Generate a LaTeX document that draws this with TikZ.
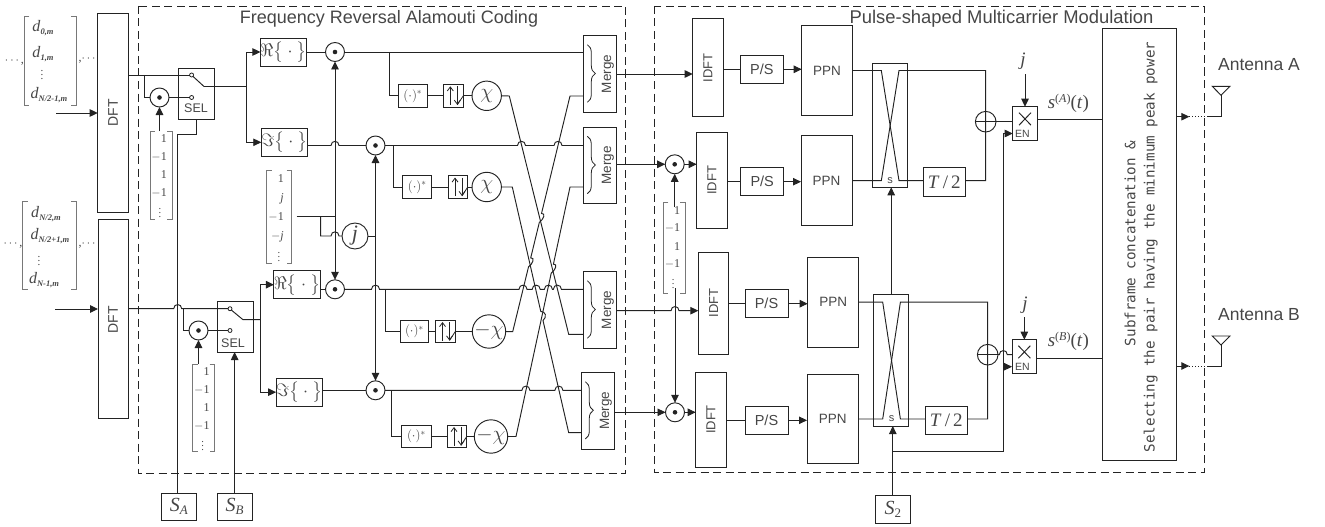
\documentclass[tikz,border=0pt]{standalone}
\usepackage{fix-cm}
\usepackage{amsmath}
\usepackage{fontspec}
\setmainfont{Liberation Serif}
\setsansfont{Liberation Sans}
\setmonofont{DejaVu Sans Mono}
\usetikzlibrary{arrows.meta,calc,decorations.pathreplacing}
\definecolor{wirecolor}{RGB}{35,35,35}
\definecolor{textcolor}{RGB}{70,70,70}
\definecolor{bracecolor}{RGB}{120,120,120}
\newcommand{\sized}[1]{\fontsize{#1}{#1}\selectfont}
\newcommand{\dsub}[1]{\textit{d}\raisebox{-2.5pt}{\sized{8.5}\textit{\textbf{#1}}}}
\newcommand{\blk}[7][]{\node[blockbox,minimum width={(#5-#3)*1pt},minimum height={(#6-#4)*1pt},#1] (#2) at ({(#3+#5)/2},{(#4+#6)/2}) {#7};}
\newcommand{\hop}[2]{-- ({#1-4},#2) .. controls ({#1-4},{#2-5.5}) and ({#1+4},{#2-5.5}) .. ({#1+4},#2)}
\newcommand{\slhop}[3]{-- ({#1-#3},{#2-4.5}) .. controls ({#1-#3+4.5},{#2-5}) and ({#1+#3+4.5},{#2+1}) .. ({#1+#3},{#2+4.5})}
\newcommand{\brk}[4]{\draw[bracket] ({#1+5},#2) -- (#1,#2) -- (#1,#4) -- ({#1+5},#4); \draw[bracket] ({#3-5},#2) -- ({#3},#2) -- ({#3},#4) -- ({#3-5},#4);}
\newcommand{\signvec}[4]{
  \brk{#2}{#3}{(#2+22)}{#4}
  \foreach \k/\v in {0/{1},1/{$-$1},2/{1},3/{$-$1}}{
    \node[vecentry,anchor=east] (#1\k) at ({#2+17},{#3+8+18*\k}) {\v};
  }
  \node[vecentry,font=\rmfamily\sized{10.5}] (#1dots) at ({#2+10},{#3+79}) {$\vdots$};
}
\tikzset{
  wire/.style={draw=wirecolor,line width=0.95pt},
  arrowed/.style={-{Triangle[length=8pt,width=7.5pt]}},
  arrowboth/.style={{Triangle[length=8pt,width=7.5pt]}-{Triangle[length=8pt,width=7.5pt]}},
  blockbox/.style={draw=wirecolor,line width=0.95pt,inner sep=0pt,outer sep=0pt,text=textcolor,font=\sffamily\sized{14}},
  mult/.style={circle,draw=wirecolor,line width=0.95pt,minimum size=19pt,inner sep=0pt,outer sep=0pt},
  ring/.style={circle,draw=wirecolor,line width=0.95pt,minimum size=29.4pt,inner sep=0pt,outer sep=0pt,text=textcolor},
  xorring/.style={circle,draw=wirecolor,line width=0.95pt,minimum size=20.6pt,inner sep=0pt,outer sep=0pt},
  contact/.style={circle,draw=wirecolor,fill=white,line width=0.8pt,minimum size=4pt,inner sep=0pt,outer sep=0pt},
  bracket/.style={draw=bracecolor,line width=0.8pt},
  vecentry/.style={inner sep=0pt,text=textcolor,font=\rmfamily\sized{12}},
  dlabel/.style={inner sep=0pt,text=textcolor,font=\rmfamily\sized{16}},
  dotlabel/.style={inner sep=0pt,text=textcolor,font=\rmfamily\sized{11}},
  plainlabel/.style={inner sep=0pt,text=textcolor,font=\sffamily\sized{13}},
  mathlabel/.style={inner sep=0pt,outer sep=4pt,text=textcolor,font=\rmfamily\sized{19}},
  title/.style={inner sep=0pt,text=textcolor,font=\sffamily\sized{18}},
  frame/.style={draw=wirecolor,line width=0.95pt,dashed,dash pattern=on 8pt off 4.5pt},
  flipup/.style={draw=wirecolor,line width=0.8pt,-{Straight Barb[length=4pt,width=6pt]}},
}
\begin{document}
\begin{tikzpicture}[x=1pt,y=-1pt]
  \useasboundingbox (0,0) rectangle (1325,527);
  \draw[frame] (138,6) rectangle (625.5,473);
  \draw[frame] (654,6) rectangle (1204,472);
  \node[title] (titleA) at (389,19) {Frequency Reversal Alamouti Coding};
  \node[title,font=\sffamily\sized{18.4}] (titleB) at (1001.5,19) {Pulse-shaped Multicarrier Modulation};

  \brk{24.3}{16}{76}{105}
  \node[dlabel] (dA) at (43,28) {\dsub{0,m}};
  \node[dlabel] (dB) at (43,54) {\dsub{1,m}};
  \node[dotlabel] (dC) at (42,72) {$\vdots$};
  \node[dlabel] (dD) at (49,95) {\dsub{N/2-1,m}};
  \node[dotlabel,font=\rmfamily\sized{12}] (dE) at (14.5,62) {$\cdots$,};
  \node[dotlabel,font=\rmfamily\sized{12}] (dF) at (88,60) {,$\cdots$};
  \brk{22.5}{201}{76}{289}
  \node[dlabel] (dG) at (46,214) {\dsub{N/2,m}};
  \node[dlabel] (dH) at (50,236) {\dsub{N/2+1,m}};
  \node[dotlabel] (dI) at (39,258) {$\vdots$};
  \node[dlabel] (dJ) at (44,280) {\dsub{N-1,m}};
  \node[dotlabel,font=\rmfamily\sized{12}] (dK) at (13,245) {$\cdots$,};
  \node[dotlabel,font=\rmfamily\sized{12}] (dL) at (88,245) {,$\cdots$};

  \blk{dftA}{97.7}{13}{128}{212}{}
  \blk{dftB}{98}{219}{128.5}{418.7}{}
  \node[plainlabel,rotate=90,font=\sffamily\sized{14}] (dftlabelA) at (113,113) {DFT};
  \node[plainlabel,rotate=90,font=\sffamily\sized{14}] (dftlabelB) at (113,320) {DFT};
  \coordinate (inA) at (56,113);
  \coordinate (inB) at (55,309);
  \draw[wire,arrowed] (inA) -- (inA -| dftA.west);
  \draw[wire,arrowed] (inB) -- (inB -| dftB.west);

  \blk{selA}{178.5}{68}{214.5}{119.5}{}
  \blk{selB}{217}{301}{253}{352}{}
  \node[plainlabel,font=\sffamily\sized{12.5}] (sellabelA) at (196,108) {SEL};
  \node[plainlabel,font=\sffamily\sized{12.5}] (sellabelB) at (233,343) {SEL};
  \node[contact] (conAa) at (191.6,75) {};
  \node[contact] (conAb) at (191.6,97.5) {};
  \node[contact] (conBa) at (230,308.7) {};
  \node[contact] (conBb) at (230,330.5) {};

  \foreach \n/\x/\y in {A/335/52,B/375.5/145.5,C/335/289.3,D/375.5/390.3,E/159.5/97.5,F/198.5/330.5,G/674.7/164.3,H/675/412.3}{
    \node[mult] (mul\n) at (\x,\y) {};
    \fill[wirecolor] (mul\n) circle (2.3);
  }

  \blk{sA}{161.7}{493}{196}{520.7}{\rmfamily\sized{20}\textit{S}\raisebox{-3pt}{\sized{13}\textit{A}}}
  \blk{sB}{217.3}{493}{252}{520.7}{\rmfamily\sized{20}\textit{S}\raisebox{-3pt}{\sized{13}\textit{B}}}
  \blk{sTwo}{875.3}{495.7}{910.3}{523.7}{\rmfamily\sized{20}\textit{S}\raisebox{-3pt}{\sized{13}2}}

  \signvec{vecE}{150}{131}{219.5}
  \signvec{vecF}{192.7}{364}{451.7}
  \signvec{vecG}{663.3}{202.3}{293.3}

  \coordinate (tapE) at (144.5,75);
  \coordinate (armA) at (204,86.5);
  \coordinate (splitA) at (246.5,86.5);
  \coordinate (vecEtop) at (159.5,131);
  \draw[wire] (dftA.east |- conAa) -- (conAa.west);
  \draw[wire] (tapE) |- (mulE.west);
  \draw[wire] (mulE.east) -- (conAb.west);
  \draw[wire,arrowed] (vecEtop) -- (mulE.south);
  \draw[wire] (conAa.south east) -- (armA) -- (splitA);
  \coordinate (kneeS) at (177.7,134.7);
  \draw[wire] (selA.south) |- (kneeS) -- (kneeS |- sA.north);
  \draw[wire] (dftB.east |- conBa) \hop{177.7}{308.7} -- (conBa.west);
  \coordinate (tapF) at (183.3,308.7);
  \coordinate (armB) at (243,319.7);
  \coordinate (splitB) at (260.7,319.7);
  \coordinate (vecFtop) at (198.5,364);
  \draw[wire] (tapF) |- (mulF.west);
  \draw[wire] (mulF.east) -- (conBb.west);
  \draw[wire,arrowed] (vecFtop) -- (mulF.south);
  \draw[wire] (conBa.south east) -- (armB) -- (splitB);
  \draw[wire,arrowed] (sB.north) -- (sB.north |- selB.south);

  \blk{reA}{261}{38}{306}{66}{\sized{18}$\Re\big\{\cdot\big\}$}
  \blk{imA}{261.7}{128.3}{307}{156.3}{\sized{18}$\Im\big\{\cdot\big\}$}
  \blk{reB}{274.7}{270.7}{319.3}{298.7}{\sized{18}$\Re\big\{\cdot\big\}$}
  \blk{imB}{276.7}{378.3}{321.7}{406}{\sized{18}$\Im\big\{\cdot\big\}$}
  \draw[wire,arrowed] (splitA) |- (reA.west);
  \draw[wire,arrowed] (splitA) |- (imA.west);
  \draw[wire,arrowed] (splitB) |- (reB.west);
  \draw[wire,arrowed] (splitB) |- (imB.west);
  \draw[wire] (reA.east) -- (reA.east -| mulA.west);
  \draw[wire] (imA.east |- mulB.west) \hop{335}{145.5} -- (mulB.west);
  \draw[wire] (reB.east |- mulC.west) -- (mulC.west);
  \draw[wire] (imB.east |- mulD.west) -- (mulD.west);

  \brk{266.7}{170}{291.7}{263.3}
  \foreach \k/\v/\y in {A/{1}/179,B/{\textit{j}}/199,C/{$-$1}/217.3,D/{$-$\textit{j}}/237.3}{
    \node[vecentry,anchor=east] (vecJ\k) at (284,\y) {\v};
  }
  \node[vecentry,font=\rmfamily\sized{10.5}] (vecJdots) at (279,254) {$\vdots$};
  \node[ring,minimum size=26pt,font=\rmfamily\sized{22}] (jmul) at (355,236) {\textit{j}};
  \coordinate (vecJout) at (296.7,216);
  \coordinate (tapJ) at (320.7,216);
  \coordinate (railJ) at (335,216);
  \draw[wire] (vecJout) -- (railJ);
  \draw[wire] (tapJ) |- (320.7,236) \hop{335}{236} -- (jmul.west);
  \draw[wire] (jmul.east) -- (jmul.east -| mulB);
  \draw[wire,arrowboth] (mulA.south) -- (mulC.north);
  \draw[wire,arrowboth] (mulB.south) -- (mulD.north);

  \foreach \n/\a/\b/\c/\d/\t/\u/\x/\s in {A/398.3/427.3/443.3/463.3/84.3/107.3/486.7/{\chi},B/402.7/431.7/448.3/467.7/175.7/198.3/486.7/{\chi},C/400/428.7/435.7/455.3/320.3/342.7/489/{-\chi},D/401.7/431/447.3/466.7/425.3/447.7/491/{-\chi}}{
    \blk{conj\n}{\a}{\t}{\b}{\u}{\sized{13}$(\cdot)^{*}$}
    \blk{flip\n}{\c}{\t}{\d}{\u}{}
    \node[ring,font=\sized{21}] (chi\n) at (\x,{(\t+\u)/2}) {$\s$};
    \draw[wire] (conj\n.east) -- (flip\n.west);
    \draw[wire] (flip\n.east) -- (chi\n.west);
    \draw[flipup] ($(flip\n.center)+(-3,9)$) -- ($(flip\n.center)+(-3,-9.5)$);
    \draw[flipup] ($(flip\n.center)+(4,-9.5)$) -- ($(flip\n.center)+(4,9)$);
    \draw[wire,line width=0.8pt] ($(flip\n.center)+(4,9)$) -- (flip\n.east);
  }
  \foreach \n/\x/\y in {A/389.3/52,B/393.7/145.5,C/385/289.3,D/391.7/390.3}{
    \coordinate (tap\n) at (\x,\y);
    \draw[wire] (tap\n) |- (conj\n.west);
  }

  \foreach \n/\a/\b/\t/\u in {A/583.3/616.3/35.7/112.3,B/583.3/616.3/127.3/203.7,C/583.3/616.3/271.7/348.3,D/581.3/614.3/372.7/449}{
    \blk{merge\n}{\a}{\t}{\b}{\u}{}
    \node[plainlabel,rotate=90,font=\sffamily\sized{13.5}] (mergelabel\n) at ($(merge\n.center)+(8,0)$) {Merge};
    \draw[wire,line width=0.8pt,decorate,decoration={brace,amplitude=8pt}] ($(merge\n.north west)+(4,9)$) -- ($(merge\n.south west)+(4,-10)$);
  }
  \coordinate (crossAa) at (509.3,96);
  \coordinate (crossAb) at (568.7,334.3);
  \coordinate (crossBa) at (570,96);
  \coordinate (crossBb) at (512.7,331.7);
  \coordinate (crossCa) at (512.3,187);
  \coordinate (crossCb) at (568.7,432.7);
  \coordinate (crossDa) at (570,187);
  \coordinate (crossDb) at (516,436.5);
  \draw[wire] (mulA.east) -- (mulA.east -| mergeA.west);
  \draw[wire] (mulB.east) \hop{521.5}{145.5} \hop{558}{145.5} -- (mulB.east -| mergeB.west);
  \draw[wire] (mulC.east) \hop{375.5}{289.3} \hop{523}{289.3} \hop{536.2}{289.3} \hop{548.4}{289.3} \hop{557.4}{289.3} -- (mulC.east -| mergeC.west);
  \draw[wire] (mulD.east) \hop{525.9}{390.3} \hop{558.9}{390.3} -- (mulD.east -| mergeD.west);
  \draw[wire] (chiA.east) -- (crossAa) -- (crossAb) -- (crossAb -| mergeC.west);
  \draw[wire] (crossBa -| mergeA.west) -- (crossBa) \slhop{540.4}{218}{-1.1} \slhop{529.6}{262.4}{-1.1} -- (crossBb) -- (chiC.east);
  \draw[wire] (chiB.east) -- (crossCa) \slhop{541.9}{316}{1.1} -- (crossCb) -- (crossCb -| mergeD.west);
  \draw[wire] (crossDa -| mergeB.west) -- (crossDa) \slhop{552.3}{268.7}{-1.1} -- (crossDb) -- (chiD.east);

  \foreach \n/\a/\t/\u in {A/692.7/18.7/116.7,B/696.7/132.7/228,C/698.3/252.3/354,D/695.7/372/467}{
    \blk{idft\n}{\a}{\t}{(\a+30.6)}{\u}{}
    \node[plainlabel,rotate=90] (idftlabel\n) at (idft\n.center) {IDFT};
  }
  \draw[wire,arrowed] (mergeA.east) -- (mergeA.east -| idftA.west);
  \coordinate (mergeBout) at (616.3,164.3);
  \coordinate (mergeCout) at (616.3,310.7);
  \coordinate (mergeDout) at (614.3,412.3);
  \coordinate (vecGtop) at (674.7,207);
  \coordinate (vecGbot) at (675,288);
  \draw[wire,arrowed] (mergeBout) -- (mulG.west);
  \draw[wire,arrowed] (mulG.east) -- (mulG.east -| idftB.west);
  \draw[wire,arrowed] (vecGtop) -- (mulG.south);
  \draw[wire,arrowed] (mergeCout) \hop{675}{310.7} -- (mergeCout -| idftC.west);
  \draw[wire,arrowed] (vecGbot) -- (mulH.north);
  \draw[wire,arrowed] (mergeDout) -- (mulH.west);
  \draw[wire,arrowed] (mulH.east) -- (mulH.east -| idftD.west);

  \foreach \n/\a/\t/\u/\p/\q/\r/\s in {A/740.3/55.3/83.3/801.7/852.3/25.7/115.3,B/740.7/167.7/195.7/801/852/135.7/225.7,C/745/289.7/317.7/807.7/858.7/257.3/347,D/745/406.3/434.3/807/858.3/374.3/463.7}{
    \blk{ps\n}{\a}{\t}{(\a+43)}{\u}{\sized{14.5}P/S}
    \blk{ppn\n}{\p}{\r}{\q}{\s}{\sized{13.5}PPN}
    \draw[wire] (ps\n.west -| idft\n.east) -- (ps\n.west);
    \draw[wire,arrowed] (ps\n.east) -- (ps\n.east -| ppn\n.west);
  }

  \blk{swA}{872.3}{63.3}{907.3}{187.3}{}
  \blk{swB}{873.7}{294.3}{908.7}{426}{}
  \blk{delayA}{923.3}{167.7}{965.3}{196.3}{\rmfamily\sized{19}\textit{T}\,/\,2}
  \blk{delayB}{925.3}{406.3}{967.3}{434.3}{\rmfamily\sized{19}\textit{T}\,/\,2}
  \node[xorring] (xorA) at (985.7,121.7) {};
  \node[xorring] (xorB) at (987.7,354.7) {};
  \draw[wire] (xorA.west) -- (xorA.east);
  \draw[wire] (xorB.west) -- (xorB.east);
  \foreach \s/\p/\q in {A/A/B,B/C/D}{
    \coordinate (sw\s a) at ($(ppn\p.east -| sw\s.west)+(9,0)$);
    \coordinate (sw\s b) at ($(ppn\p.east -| sw\s.west)+(26.7,0)$);
    \coordinate (sw\s c) at ($(ppn\q.east -| sw\s.west)+(9,0)$);
    \coordinate (sw\s d) at ($(ppn\q.east -| sw\s.west)+(26.7,0)$);
    \coordinate (sw\s e) at (sw\s b -| xor\s);
    \coordinate (sw\s f) at (sw\s d -| xor\s);
    \node[plainlabel,font=\sffamily\sized{11}] (swlabel\s) at ($(sw\s c)+(8.8,0)$) {s};
    \draw[wire] (ppn\p.east) -- (sw\s a) -- (sw\s d) -- (delay\s.west |- sw\s d);
    \draw[wire] (ppn\q.east) -- (sw\s c) -- (sw\s b) -- (sw\s e) -- (sw\s f) -- (delay\s.east |- sw\s f);
  }
  \draw[wire,arrowed] (swB.north) -- (swB.north |- swA.south);
  \coordinate (tapS) at (892.8,451.7);
  \coordinate (railS) at (1003.3,451.7);
  \draw[wire,arrowed] (sTwo.north) -- (sTwo.north |- swB.south);
  \blk{enA}{1012.7}{106.7}{1037.3}{140.3}{}
  \blk{enB}{1012}{339.7}{1036.7}{373.7}{}
  \foreach \n/\y in {A/133.5,B/366.7}{
    \node[plainlabel,font=\sffamily\sized{10.5}] (enlabel\n) at (1022.5,\y) {EN};
    \draw[wire] ($(en\n.north)+(-6,6)$) -- ($(en\n.north)+(6,18.5)$);
    \draw[wire] ($(en\n.north)+(6,6)$) -- ($(en\n.north)+(-6,18.5)$);
  }
  \draw[wire,arrowed] (tapS) -- (railS) -- (enlabelA -| railS) -- (enlabelA -| enA.west);
  \draw[wire,arrowed] (enlabelB -| railS) -- (enlabelB -| enB.west);
  \draw[wire] (xorA.east) -- (xorA.east -| enA.west);
  \draw[wire] (xorB.east) \hop{1003.3}{354.7} -- (xorB.east -| enB.west);
  \node[mathlabel] (jA) at (1023,61.7) {\textit{j}};
  \node[mathlabel] (jB) at (1025,305) {\textit{j}};
  \draw[wire,arrowed] (enA.north |- jA.south) -- (enA.north);
  \draw[wire,arrowed] (enB.north |- jB.south) -- (enB.north);

  \blk{big}{1102.7}{28.7}{1176.3}{460.3}{}
  \node[inner sep=0pt,rotate=90,text=textcolor,font=\ttfamily\sized{14.2}] (bigtextA) at (1130,243.5) {Subframe concatenation \&};
  \node[inner sep=0pt,rotate=90,text=textcolor,font=\ttfamily\sized{14.2}] (bigtextB) at (1150.7,247) {Selecting the pair having the minimum peak power};
  \coordinate (enAout) at (1037.3,119.3);
  \coordinate (enBout) at (1036.7,358.7);
  \draw[wire] (enAout) -- (enAout -| big.west);
  \draw[wire] (enBout) -- (enBout -| big.west);
  \node[mathlabel] (sigA) at (1068.3,103) {\textit{s}\raisebox{6pt}{\sized{12}(\textit{A})}(\textit{t})};
  \node[mathlabel] (sigB) at (1068.3,341.7) {\textit{s}\raisebox{6pt}{\sized{12}(\textit{B})}(\textit{t})};

  \foreach \n/\y/\t/\l in {A/116.7/86.3/65,B/366/336/315}{
    \coordinate (out\n) at (1176.3,\y);
    \coordinate (tip\n) at (1189.3,\y);
    \coordinate (feed\n) at (1207.5,\y);
    \coordinate (ant\n) at (1221,{\t+9});
    \draw[wire,arrowed] (out\n) -- (tip\n);
    \draw[wire,dotted] (tip\n) -- (feed\n);
    \draw[wire] (feed\n) -- (feed\n -| ant\n) -- (ant\n);
    \draw[wire] (ant\n) -- (1212.3,\t) -- (1230,\t) -- cycle;
    \node[title,font=\sffamily\sized{17.5}] (antlabel\n) at (1259,\l) {Antenna \n};
  }
\end{tikzpicture}
\end{document}
